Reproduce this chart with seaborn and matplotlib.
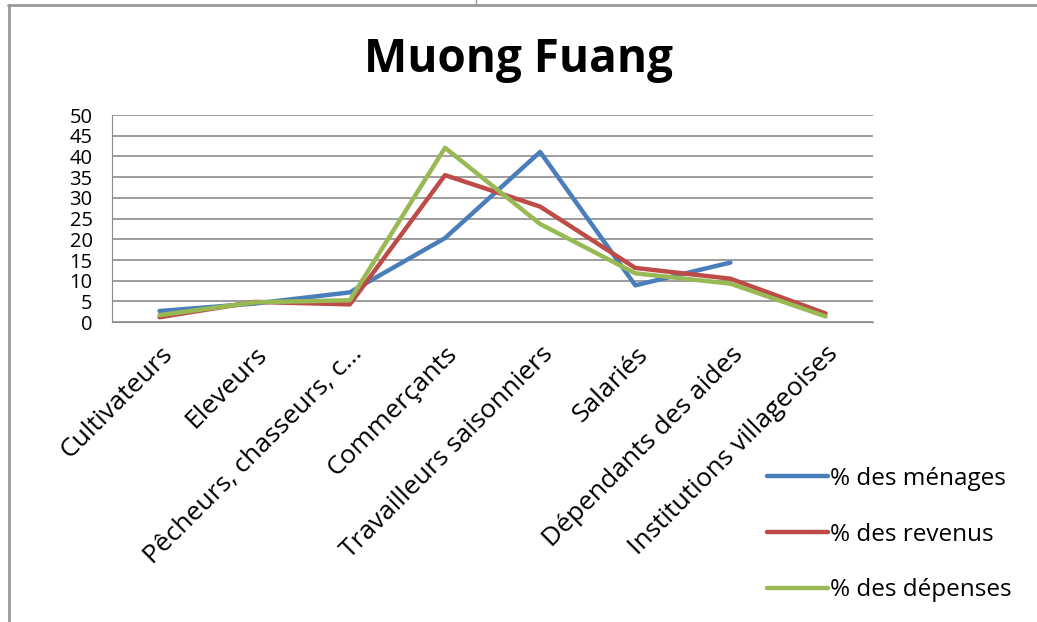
import numpy as np
import pandas as pd
import matplotlib
matplotlib.use("Agg")
import matplotlib.pyplot as plt
import seaborn as sns
from matplotlib.lines import Line2D

categories = ["Cultivateurs", "Eleveurs", "Pêcheurs, chasseurs, c…", "Commerçants",
              "Travailleurs saisonniers", "Salariés", "Dépendants des aides",
              "Institutions villageoises"]
menages = [2.7, 4.5, 7.2, 20.3, 41.1, 8.9, 14.4, np.nan]
revenus = [1.2, 4.9, 4.3, 35.5, 27.9, 13.1, 10.5, 2.1]
depenses = [1.7, 4.8, 5.3, 42.1, 23.7, 11.8, 9.3, 1.4]
series = ["% des ménages", "% des revenus", "% des dépenses"]
yticks = [0, 5, 10, 15, 20, 25, 30, 35, 40, 45, 50]

df = pd.DataFrame({"cat": categories * 3,
                   "val": menages + revenus + depenses,
                   "serie": [series[0]] * 8 + [series[1]] * 8 + [series[2]] * 8})
df = df.dropna()

sns.set_style("white")
plt.rcParams["font.family"] = ["Open Sans", "DejaVu Sans"]
plt.rcParams["text.color"] = "black"
plt.rcParams["xtick.color"] = "black"
plt.rcParams["ytick.color"] = "black"

fig = plt.figure(figsize=(10.37, 6.22), dpi=100)
ax = fig.add_axes([0.108, 0.482, 0.734, 0.333])

pal = {series[0]: "#4A7EBB", series[1]: "#BE4B48", series[2]: "#98B954"}
sns.lineplot(data=df, x="cat", y="val", hue="serie", palette=pal, linewidth=3.2,
             sort=False, ax=ax)

ax.set_xlim(-0.5, 7.5)
ax.set_ylim(0, 50)
ax.set_yticks(yticks)
ax.set_yticklabels([str(v) for v in yticks], fontsize=14.5)
ax.yaxis.grid(True, color="#8c8c8c", linewidth=1.2)
ax.set_axisbelow(True)
for s in ["top", "right"]:
    ax.spines[s].set_visible(False)
ax.spines["left"].set_color("#8c8c8c")
ax.spines["bottom"].set_color("#8c8c8c")
ax.tick_params(axis="y", length=0, pad=14)
ax.tick_params(axis="x", length=0, pad=14)
ax.set_xticks(range(len(categories)))
ax.set_xticklabels(categories, rotation=45, ha="right", rotation_mode="anchor",
                   fontsize=19)
ax.set_xlabel("")
ax.set_ylabel("")

ax.legend(loc="upper left", bbox_to_anchor=(0.848, -0.652), frameon=False,
          fontsize=17.5, handlelength=2.5, labelspacing=1.3, handletextpad=0.1,
          borderaxespad=0)

fig.text(0.5, 0.905, "Muong Fuang", ha="center", va="center", fontsize=33,
         fontweight="bold", color="black")

# frame of the screenshot
fig.add_artist(Line2D([0.008, 1.0], [0.992, 0.992], color="#999999", linewidth=2))
fig.add_artist(Line2D([0.009, 0.009], [0.0, 0.992], color="#999999", linewidth=2))
fig.add_artist(Line2D([0.459, 0.459], [0.992, 1.0], color="#999999", linewidth=1))

plt.savefig("out.png", dpi=100)
